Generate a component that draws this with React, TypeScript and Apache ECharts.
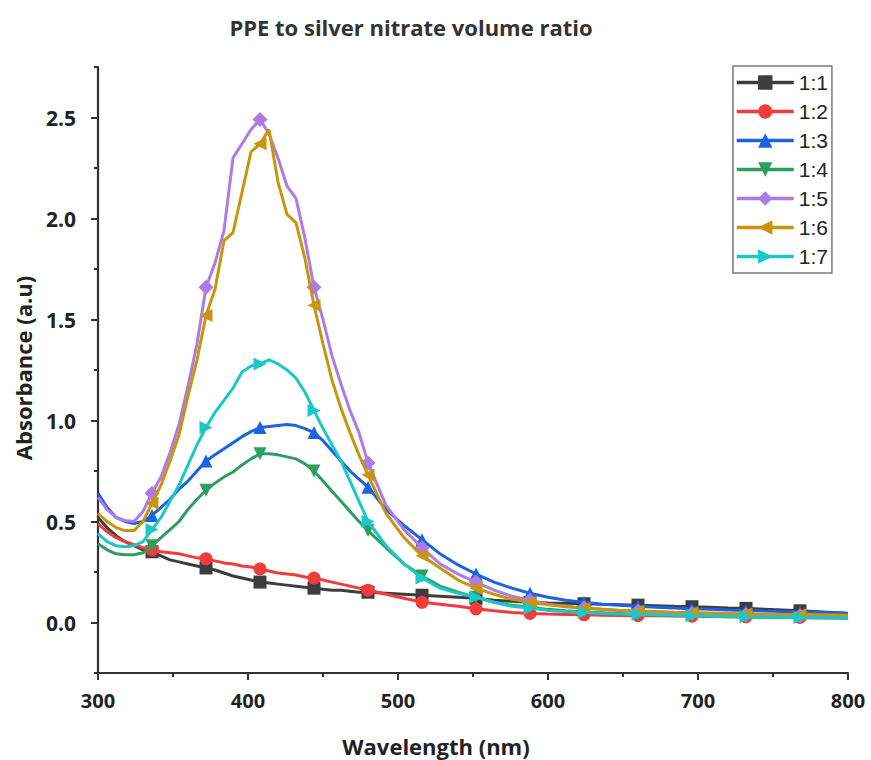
import React, { useEffect, useRef } from "react";
import * as echarts from "echarts";

const wavelengths = [
  300, 306, 312, 318, 324, 330, 336, 342, 348, 354, 360, 366, 372, 378, 384, 390, 396, 402, 408, 414,
  420, 426, 432, 438, 444, 450, 456, 462, 468, 474, 480, 492, 504, 516, 528, 540, 552, 564, 576, 588,
  600, 612, 624, 636, 648, 660, 672, 684, 696, 708, 720, 732, 744, 756, 768, 780, 792, 800,
];

const markerWavelengths = [336, 372, 408, 444, 480, 516, 552, 588, 624, 660, 696, 732, 768];

const ratio11 = [
  0.52, 0.47, 0.43, 0.4, 0.38, 0.36, 0.35, 0.33, 0.31, 0.3, 0.29, 0.28, 0.27, 0.26, 0.245, 0.23, 0.22, 0.21, 0.2, 0.195,
  0.19, 0.185, 0.18, 0.175, 0.17, 0.165, 0.16, 0.16, 0.155, 0.15, 0.15, 0.145, 0.14, 0.135, 0.13, 0.125, 0.12, 0.11, 0.105, 0.1,
  0.097, 0.095, 0.093, 0.09, 0.088, 0.086, 0.083, 0.08, 0.078, 0.075, 0.072, 0.07, 0.066, 0.062, 0.058, 0.053, 0.048, 0.045,
];
const ratio12 = [
  0.49, 0.45, 0.42, 0.4, 0.385, 0.37, 0.36, 0.35, 0.345, 0.34, 0.33, 0.32, 0.315, 0.305, 0.295, 0.29, 0.28, 0.275, 0.265, 0.255,
  0.245, 0.24, 0.235, 0.225, 0.22, 0.21, 0.2, 0.19, 0.18, 0.17, 0.16, 0.14, 0.12, 0.1, 0.09, 0.08, 0.068, 0.058, 0.05, 0.045,
  0.042, 0.04, 0.038, 0.036, 0.035, 0.034, 0.033, 0.032, 0.031, 0.03, 0.029, 0.028, 0.027, 0.026, 0.025, 0.024, 0.023, 0.022,
];
const ratio13 = [
  0.64, 0.57, 0.52, 0.5, 0.49, 0.5, 0.53, 0.57, 0.61, 0.66, 0.7, 0.75, 0.8, 0.83, 0.86, 0.89, 0.92, 0.945, 0.965, 0.97,
  0.975, 0.98, 0.975, 0.96, 0.94, 0.9, 0.85, 0.8, 0.75, 0.71, 0.67, 0.56, 0.48, 0.41, 0.34, 0.285, 0.24, 0.2, 0.17, 0.145,
  0.125, 0.11, 0.1, 0.09, 0.085, 0.08, 0.076, 0.072, 0.068, 0.065, 0.062, 0.06, 0.057, 0.055, 0.052, 0.05, 0.048, 0.046,
];
const ratio14 = [
  0.39, 0.36, 0.34, 0.335, 0.335, 0.345, 0.38, 0.42, 0.46, 0.5, 0.56, 0.61, 0.655, 0.69, 0.72, 0.745, 0.78, 0.81, 0.835, 0.835,
  0.83, 0.82, 0.81, 0.785, 0.75, 0.7, 0.65, 0.6, 0.55, 0.5, 0.455, 0.37, 0.29, 0.23, 0.18, 0.15, 0.125, 0.1, 0.085, 0.075,
  0.065, 0.058, 0.052, 0.048, 0.044, 0.04, 0.037, 0.035, 0.033, 0.031, 0.029, 0.027, 0.026, 0.025, 0.024, 0.023, 0.022, 0.021,
];
const ratio15 = [
  0.62, 0.56, 0.52, 0.505, 0.5, 0.55, 0.64, 0.72, 0.84, 0.98, 1.17, 1.38, 1.66, 1.78, 1.94, 2.3, 2.37, 2.44, 2.49, 2.42,
  2.3, 2.16, 2.1, 1.9, 1.66, 1.5, 1.32, 1.18, 1.05, 0.94, 0.79, 0.58, 0.46, 0.37, 0.29, 0.24, 0.2, 0.16, 0.13, 0.11,
  0.09, 0.08, 0.072, 0.065, 0.06, 0.056, 0.052, 0.048, 0.045, 0.042, 0.04, 0.038, 0.036, 0.034, 0.032, 0.031, 0.03, 0.029,
];
const ratio16 = [
  0.54, 0.5, 0.47, 0.455, 0.455, 0.5, 0.59, 0.68, 0.8, 0.93, 1.12, 1.3, 1.52, 1.65, 1.89, 1.93, 2.13, 2.33, 2.37, 2.44,
  2.18, 2.02, 1.98, 1.8, 1.57, 1.38, 1.2, 1.06, 0.94, 0.83, 0.73, 0.54, 0.42, 0.33, 0.27, 0.21, 0.17, 0.14, 0.115, 0.1,
  0.088, 0.078, 0.07, 0.065, 0.06, 0.057, 0.054, 0.051, 0.049, 0.047, 0.045, 0.043, 0.041, 0.04, 0.039, 0.038, 0.037, 0.036,
];
const ratio17 = [
  0.44, 0.4, 0.38, 0.375, 0.38, 0.4, 0.46, 0.52, 0.6, 0.68, 0.78, 0.88, 0.965, 1.04, 1.1, 1.16, 1.24, 1.27, 1.28, 1.3,
  1.28, 1.25, 1.21, 1.14, 1.05, 0.96, 0.88, 0.8, 0.7, 0.6, 0.5, 0.38, 0.29, 0.22, 0.17, 0.145, 0.125, 0.1, 0.08, 0.07,
  0.06, 0.055, 0.05, 0.045, 0.042, 0.04, 0.038, 0.036, 0.034, 0.032, 0.03, 0.028, 0.027, 0.026, 0.025, 0.024, 0.023, 0.022,
];

const seriesNames = ["1:1", "1:2", "1:3", "1:4", "1:5", "1:6", "1:7"];
const seriesValues = [ratio11, ratio12, ratio13, ratio14, ratio15, ratio16, ratio17];
const seriesColors = ["#3d3d3d", "#f23b3b", "#1b63e0", "#2e9e5f", "#ad7be6", "#c9950d", "#1cc7c9"];
const seriesSymbols = ["rect", "circle", "triangle", "triangle", "diamond", "triangle", "triangle"];
const seriesRotations = [0, 0, 0, 180, 0, 90, -90];

const yTickLabels = [0, 0.5, 1.0, 1.5, 2.0, 2.5];
const yMinorTicks = [-0.25, 0.25, 0.75, 1.25, 1.75, 2.25, 2.75];

const TICK_FONT = "'Open Sans', 'DejaVu Sans', sans-serif";

export default function App() {
  const ref = useRef<HTMLDivElement>(null);

  useEffect(() => {
    if (!ref.current) return;
    const chart = echarts.init(ref.current, undefined, { renderer: "svg" });
    const axisColor = "#333333";

    const series = seriesNames.map((name, si) => ({
      name,
      type: "line",
      xAxisIndex: 0,
      yAxisIndex: 0,
      showAllSymbol: true,
      symbol: seriesSymbols[si],
      symbolRotate: seriesRotations[si],
      symbolSize: si === 4 ? 15 : 13,
      lineStyle: { width: 3, color: seriesColors[si] },
      itemStyle: { color: seriesColors[si] },
      emphasis: { disabled: true },
      z: 2 + si,
      data: wavelengths.map((w, i) =>
        markerWavelengths.includes(w)
          ? { value: [w, seriesValues[si][i]] }
          : { value: [w, seriesValues[si][i]], symbol: "none" }
      ),
    }));

    chart.setOption({
      animation: false,
      backgroundColor: "#ffffff",
      grid: { left: 98, right: 23, top: 67, bottom: 87, containLabel: false },
      legend: {
        orient: "vertical",
        left: 733,
        top: 66,
        data: seriesNames,
        itemWidth: 57,
        itemHeight: 18,
        itemGap: 8,
        padding: [6, 4, 6, 2],
        borderColor: "#7a7a7a",
        borderWidth: 1.5,
        backgroundColor: "#ffffff",
        lineStyle: { width: 3.5 },
        textStyle: {
          fontFamily: "'Liberation Sans', Arial, sans-serif",
          fontSize: 21,
          lineHeight: 21,
          color: "#222222",
        },
      },
      xAxis: {
        type: "value",
        min: 300,
        max: 800,
        interval: 100,
        position: "bottom",
        axisLine: { show: true, onZero: false, lineStyle: { color: axisColor, width: 2.2 } },
        axisTick: { show: true, length: 7, lineStyle: { color: axisColor, width: 2 } },
        minorTick: { show: true, splitNumber: 2, length: 4, lineStyle: { color: axisColor, width: 2 } },
        splitLine: { show: false },
        minorSplitLine: { show: false },
        axisLabel: {
          margin: 17,
          fontFamily: TICK_FONT,
          fontWeight: "bold",
          fontSize: 20,
          color: "#222222",
          showMinLabel: true,
          showMaxLabel: true,
        },
      },
      yAxis: [
        {
          type: "value",
          min: -0.25,
          max: 2.75,
          position: "left",
          axisLine: { show: true, onZero: false, lineStyle: { color: axisColor, width: 2.2 } },
          axisTick: { show: true, length: 4, customValues: yMinorTicks, lineStyle: { color: axisColor, width: 2 } },
          axisLabel: { show: false, customValues: yMinorTicks },
          splitLine: { show: false },
        },
        {
          type: "value",
          min: -0.25,
          max: 2.75,
          position: "left",
          offset: 0,
          axisLine: { show: false },
          axisTick: { show: true, length: 7, customValues: yTickLabels, lineStyle: { color: axisColor, width: 2 } },
          axisLabel: {
            customValues: yTickLabels,
            margin: 22,
            fontFamily: TICK_FONT,
            fontWeight: "bold",
            fontSize: 21,
            color: "#222222",
            formatter: (v: number) => v.toFixed(1),
          },
          splitLine: { show: false },
        },
      ],
      graphic: [
        {
          type: "text",
          x: 411,
          y: 27,
          style: {
            text: "PPE to silver nitrate volume ratio",
            align: "center",
            verticalAlign: "middle",
            fontFamily: TICK_FONT,
            fontWeight: "bold",
            fontSize: 22,
            fill: "#333333",
          },
        },
        {
          type: "text",
          x: 436,
          y: 746,
          style: {
            text: "Wavelength (nm)",
            align: "center",
            verticalAlign: "middle",
            fontFamily: TICK_FONT,
            fontWeight: "bold",
            fontSize: 22,
            fill: "#222222",
          },
        },
        {
          type: "text",
          x: 23,
          y: 368,
          rotation: Math.PI / 2,
          style: {
            text: "Absorbance (a.u)",
            align: "center",
            verticalAlign: "middle",
            fontFamily: TICK_FONT,
            fontWeight: "bold",
            fontSize: 22,
            fill: "#222222",
          },
        },
      ],
      series,
    });

    return () => chart.dispose();
  }, []);

  return (
    <div
      ref={ref}
      style={{ position: "absolute", left: 0, top: 0, width: 871, height: 760, background: "#fff" }}
    />
  );
}
